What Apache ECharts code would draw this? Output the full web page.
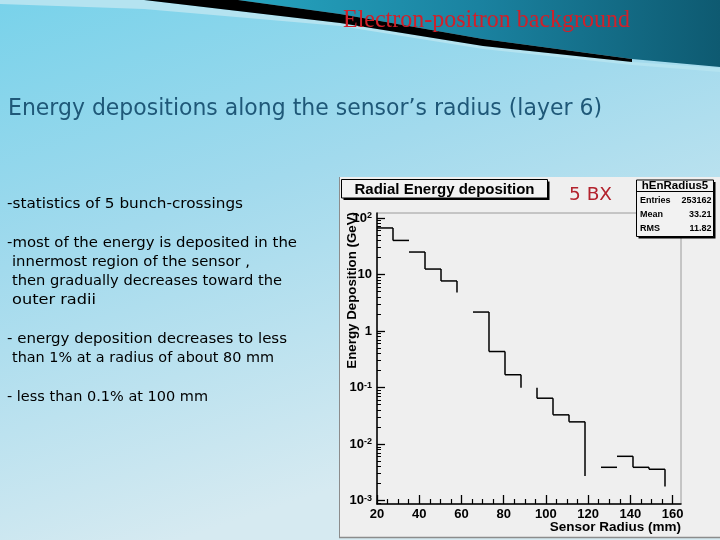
<!DOCTYPE html>
<html><head><meta charset="utf-8">
<script src="https://cdn.jsdelivr.net/npm/echarts@6/dist/echarts.min.js"></script>
<style>html,body{margin:0;padding:0;width:720px;height:540px;overflow:hidden;background:#9fdbee;}#c{width:720px;height:540px;}</style>
</head><body><div id="c"></div>
<script>
// ---------------- data ----------------
const slideTitle = 'Electron-positron background';
const slideSubtitle = 'Energy depositions along the sensor\u2019s radius (layer 6)';
const bulletLines = [
  '-statistics of 5 bunch-crossings',
  '-most of the energy is deposited in the',
  ' innermost region of the sensor ,',
  ' then gradually decreases toward the',
  ' outer radii',
  '- energy deposition decreases to less',
  ' than 1% at a radius of about 80 mm',
  '- less than 0.1% at 100 mm'
];
const histTitle = 'Radial Energy deposition';
const runLabel = '5 BX';
const statsTitle = 'hEnRadius5';
const statsNames = ['Entries', 'Mean', 'RMS'];
const statsValues = ['253162', '33.21', '11.82'];
const xAxisTitle = 'Sensor Radius (mm)';
const yAxisTitle = 'Energy Deposition (GeV)';

// histogram bins (mm) and contents (GeV)
const binEdges = [20, 27.58, 35.16, 42.74, 50.32, 57.89, 65.47, 73.05, 80.63, 88.21, 95.79, 103.37, 110.95, 118.53, 126.11, 133.68, 141.26, 148.84, 156.42, 164];
const binValues = [66.6, 40.1, 25.0, 12.5, 7.7, 4.8, 2.17, 0.435, 0.169, 0.099, 0.065, 0.033, 0.0248, 0.00275, 0.0039, 0.0061, 0.0039, 0.0036, 0.00178];
// step segments that are not visible in the reference raster
const hiddenTops = [5, 9, 13, 18];
const hiddenRises = [2, 6, 14, 15];

const xTickValues = [20, 40, 60, 80, 100, 120, 140, 160];
const xMinorTickValues = [25, 30, 35, 45, 50, 55, 65, 70, 75, 85, 90, 95, 105, 110, 115, 125, 130, 135, 145, 150, 155];
const yTickValues = [0.001, 0.01, 0.1, 1, 10, 100];
const yTickLabels = ['10^-3', '10^-2', '10^-1', '1', '10', '10^2'];
const yMinorMultipliers = [2, 3, 4, 5, 6, 7, 8, 9];
const yMinorDecades = [0.001, 0.01, 0.1, 1, 10];
const yMinorExtra = [0.0009];
const xRange = [20, 164];
const yRange = [0.000875, 122.5];

// ---------------- helpers ----------------
const yMinorTickValues = yMinorExtra.slice();
yMinorDecades.forEach(d => yMinorMultipliers.forEach(m => { const v = +(m * d).toPrecision(3); if (v < yRange[1]) yMinorTickValues.push(v); }));

const mctx = document.createElement('canvas').getContext('2d');
function fit(text, font, target) { mctx.font = font; return target / mctx.measureText(text).width; }

const SLIDE_FONT = '"DejaVu Sans"';
const ROOT_FONT = '"Liberation Sans", Arial, sans-serif';

function fittedText(text, x, y, size, family, target, fill, extra) {
  const font = (extra && extra.weight ? extra.weight + ' ' : '') + size + 'px ' + family;
  const s = fit(text, font, target);
  return {
    type: 'text', x: x, y: y, scaleX: s, z: 20,
    style: { text: text, font: font, fill: fill, align: 'left', verticalAlign: 'middle' }
  };
}

// ---------------- layout ----------------
const bulletLayout = [
  [7, 204, 236], [7, 243, 290], [12, 262, 238], [12, 281, 270], [12, 300, 84],
  [7, 339, 280], [12, 358, 262], [7, 397, 201]
];

const graphics = [];
// slide background
graphics.push({ type: 'rect', shape: { x: 0, y: 0, width: 720, height: 540 }, z: -20,
  style: { fill: new echarts.graphic.LinearGradient(0, 0, 0.25, 1, [{ offset: 0, color: '#78d2ea' }, { offset: 0.45, color: '#a2daed' }, { offset: 1, color: '#d6eaf1' }]) } });
// pale band
graphics.push({ type: 'polygon', z: -19, shape: { points: [[0, 0], [144, 0], [340, 23], [483, 46], [632, 62], [720, 68], [720, 72], [632, 65], [483, 49], [340, 26], [144, 9], [0, 4]] }, style: { fill: '#b4e3f0' } });
// dark teal
graphics.push({ type: 'polygon', z: -18, shape: { points: [[238, 0], [720, 0], [720, 67], [632, 59], [483, 39], [340, 14]] },
  style: { fill: new echarts.graphic.LinearGradient(0, 0, 1, 0, [{ offset: 0, color: '#26a4bf' }, { offset: 0.5, color: '#1a82a0' }, { offset: 1, color: '#0e5a71' }]) } });
// black wedge
graphics.push({ type: 'polygon', z: -17, shape: { points: [[144, 0], [238, 0], [340, 14], [483, 39], [632, 59], [632, 62], [483, 46], [340, 23]] }, style: { fill: '#000' } });

// slide title and subtitle
graphics.push(fittedText(slideTitle, 343, 20, 26, '"Liberation Serif", serif', 287, '#d0202a'));
graphics.push(fittedText(slideSubtitle, 8, 109, 23, SLIDE_FONT, 594, '#1f5878'));
bulletLines.forEach((t, i) => {
  const L = bulletLayout[i];
  graphics.push(fittedText(t.replace(/^ /, ''), L[0], L[1], 14, SLIDE_FONT, L[2], '#000'));
});

// ROOT canvas
graphics.push({ type: 'rect', z: -5, shape: { x: 339, y: 177, width: 381, height: 361 }, style: { fill: '#efefef' } });
graphics.push({ type: 'line', z: -4, shape: { x1: 339.5, y1: 177, x2: 339.5, y2: 538 }, style: { stroke: '#8c8c8c', lineWidth: 1 } });
graphics.push({ type: 'line', z: -4, shape: { x1: 339, y1: 537.5, x2: 720, y2: 537.5 }, style: { stroke: '#8c8c8c', lineWidth: 1.5 } });

// title box
graphics.push({ type: 'rect', z: 15, shape: { x: 343.5, y: 181.5, width: 206, height: 18.5 }, style: { fill: '#000' } });
graphics.push({ type: 'rect', z: 16, shape: { x: 341.5, y: 179.5, width: 206, height: 18.5 }, style: { fill: '#f2f2f2', stroke: '#000', lineWidth: 1 } });
graphics.push({ type: 'text', z: 17, x: 444.5, y: 189.5, style: { text: histTitle, font: 'bold 15px ' + ROOT_FONT, fill: '#000', align: 'center', verticalAlign: 'middle' } });

// run label
graphics.push(fittedText(runLabel, 569, 195, 18, SLIDE_FONT, 43, '#b3232e'));

// stats box
graphics.push({ type: 'rect', z: 15, shape: { x: 638.5, y: 182, width: 77, height: 56.5 }, style: { fill: '#000' } });
graphics.push({ type: 'rect', z: 16, shape: { x: 636.5, y: 180, width: 77, height: 56.5 }, style: { fill: '#f2f2f2', stroke: '#000', lineWidth: 1 } });
graphics.push({ type: 'line', z: 17, shape: { x1: 636.5, y1: 191.5, x2: 713.5, y2: 191.5 }, style: { stroke: '#000', lineWidth: 1 } });
graphics.push({ type: 'text', z: 17, x: 675, y: 186, style: { text: statsTitle, font: 'bold 11.5px ' + ROOT_FONT, fill: '#000', align: 'center', verticalAlign: 'middle' } });
statsNames.forEach((n, i) => {
  const y = 201 + i * 13.6;
  graphics.push({ type: 'text', z: 17, x: 640, y: y, style: { text: n, font: 'bold 9px ' + ROOT_FONT, fill: '#000', align: 'left', verticalAlign: 'middle' } });
  graphics.push({ type: 'text', z: 17, x: 711.5, y: y, style: { text: statsValues[i], font: 'bold 9px ' + ROOT_FONT, fill: '#000', align: 'right', verticalAlign: 'middle' } });
});

// axis titles
graphics.push({ type: 'text', z: 17, x: 681, y: 527, style: { text: xAxisTitle, font: 'bold 13.5px ' + ROOT_FONT, fill: '#000', align: 'right', verticalAlign: 'middle' } });
graphics.push({ type: 'text', z: 17, x: 352, y: 212, rotation: Math.PI / 2, style: { text: yAxisTitle, font: 'bold 13.3px ' + ROOT_FONT, fill: '#000', align: 'right', verticalAlign: 'middle' } });

// ---------------- histogram ----------------
const histData = binValues.map((v, i) => [
  binEdges[i], binEdges[i + 1], v, i > 0 ? binValues[i - 1] : v,
  hiddenTops.indexOf(i) >= 0 ? 0 : 1,
  (i > 0 && hiddenRises.indexOf(i) < 0) ? 1 : 0
]);

function renderStep(params, api) {
  const x0 = api.value(0), x1 = api.value(1), v = api.value(2), pv = api.value(3);
  const a = api.coord([x0, v]), b = api.coord([x1, v]);
  const st = { stroke: '#000', lineWidth: 1.5, fill: null };
  const ch = [];
  if (api.value(4)) ch.push({ type: 'line', shape: { x1: a[0], y1: a[1], x2: b[0], y2: b[1] }, style: st });
  if (api.value(5)) { const p = api.coord([x0, pv]); ch.push({ type: 'line', shape: { x1: p[0], y1: p[1], x2: a[0], y2: a[1] }, style: st }); }
  return { type: 'group', children: ch };
}

const labelFont = { fontFamily: ROOT_FONT, fontWeight: 'bold', fontSize: 13, color: '#000' };

const option = {
  animation: false,
  graphic: { elements: graphics },
  grid: { left: 377, right: 39, top: 213, bottom: 36, show: true, backgroundColor: 'transparent', borderColor: '#9a9a9a', borderWidth: 1, containLabel: false, outerBoundsMode: 'none' },
  xAxis: [
    { type: 'value', min: xRange[0], max: xRange[1], position: 'bottom',
      axisLine: { show: true, lineStyle: { color: '#000', width: 1.5 } },
      axisTick: { show: true, inside: true, length: 9, customValues: xTickValues, lineStyle: { color: '#000', width: 1.3 } },
      axisLabel: { show: true, customValues: xTickValues, margin: 4, ...labelFont },
      splitLine: { show: false } },
    { type: 'value', min: xRange[0], max: xRange[1], position: 'bottom',
      axisLine: { show: false }, axisLabel: { show: false }, splitLine: { show: false },
      axisTick: { show: true, inside: true, length: 5, customValues: xMinorTickValues, lineStyle: { color: '#000', width: 1.2 } } }
  ],
  yAxis: [
    { type: 'log', logBase: 10, min: yRange[0], max: yRange[1], position: 'left',
      axisLine: { show: true, lineStyle: { color: '#000', width: 1.5 } },
      axisTick: { show: true, inside: true, length: 8, customValues: yTickValues, lineStyle: { color: '#000', width: 1.3 } },
      axisLabel: { show: true, customValues: yTickValues, margin: 5,
        formatter: function (val) {
          let idx = 0, best = Infinity;
          yTickValues.forEach((t, i) => { const d = Math.abs(Math.log10(t) - Math.log10(val)); if (d < best) { best = d; idx = i; } });
          const parts = yTickLabels[idx].split('^');
          return parts.length > 1 ? '{b|' + parts[0] + '}{s|' + parts[1] + '}' : '{b|' + parts[0] + '}';
        },
        rich: {
          b: { ...labelFont, lineHeight: 14 },
          s: { fontFamily: ROOT_FONT, fontWeight: 'bold', fontSize: 9, color: '#000', verticalAlign: 'top', lineHeight: 9, padding: [0, 0, 6, 0] }
        } },
      splitLine: { show: false } },
    { type: 'log', logBase: 10, min: yRange[0], max: yRange[1], position: 'left',
      axisLine: { show: false }, axisLabel: { show: false }, splitLine: { show: false },
      axisTick: { show: true, inside: true, length: 4, customValues: yMinorTickValues, lineStyle: { color: '#000', width: 1 } } }
  ],
  series: [{
    type: 'custom', coordinateSystem: 'cartesian2d', xAxisIndex: 0, yAxisIndex: 0,
    renderItem: renderStep, clip: true,
    encode: { x: [0, 1], y: [2] },
    data: histData, z: 5
  }]
};

const chart = echarts.init(document.getElementById('c'), null, { renderer: 'canvas', width: 720, height: 540 });
chart.setOption(option);
</script>
</body></html>
